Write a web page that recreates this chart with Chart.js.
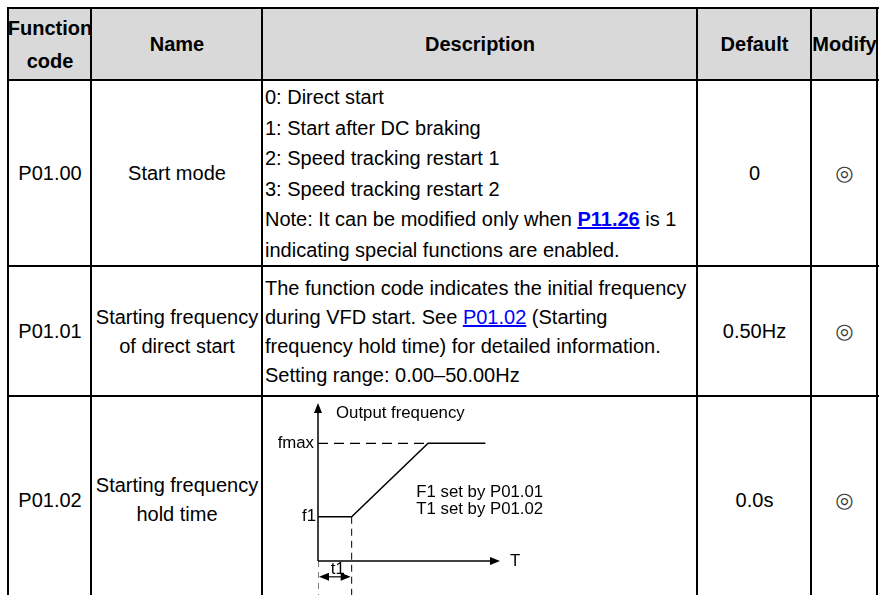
<!DOCTYPE html>
<html>
<head>
<meta charset="utf-8">
<script src="https://cdn.jsdelivr.net/npm/chart.js@4.4.1/dist/chart.umd.min.js"></script>
<style>
  html, body { margin: 0; padding: 0; background: #fff; overflow: hidden; width: 879px; height: 595px; }
  body { position: relative; font-family: "Liberation Sans", Arial, sans-serif; font-size: 20px; color: #000; }
  .hl { position: absolute; height: 2px; background: #000; }
  .vl { position: absolute; width: 2px; background: #000; }
  .cell { position: absolute; display: flex; align-items: center; box-sizing: border-box; white-space: nowrap; line-height: 29px; }
  .c { justify-content: center; text-align: center; }
  .l { justify-content: flex-start; text-align: left; padding-left: 2px; }
  .hd { background: #d9d9d9; font-weight: bold; }
  a { color: #0000ff; text-decoration: underline; }
  .sym { font-family: "DejaVu Sans", sans-serif; font-size: 21px; color: #3a3a3a; }
  #diag { position: absolute; left: 263px; top: 397px; }
</style>
</head>
<body>
<!-- header -->
<div class="cell c hd" style="left:9px;top:9px;width:82px;height:71px;line-height:33px;">Function<br>code</div>
<div class="cell c hd" style="left:92px;top:9px;width:170px;height:71px;">Name</div>
<div class="cell c hd" style="left:263px;top:9px;width:434px;height:71px;">Description</div>
<div class="cell c hd" style="left:698px;top:9px;width:113px;height:71px;">Default</div>
<div class="cell c hd" style="left:812px;top:9px;width:65px;height:71px;">Modify</div>

<!-- row 1 -->
<div class="cell c" style="left:9px;top:81px;width:82px;height:185px;">P01.00</div>
<div class="cell c" style="left:92px;top:81px;width:170px;height:185px;">Start mode</div>
<div class="cell l" style="left:263px;top:81px;width:434px;height:185px;line-height:30.5px;"><div>0: Direct start<br>1: Start after DC braking<br>2: Speed tracking restart 1<br>3: Speed tracking restart 2<br>Note: It can be modified only when <a><b>P11.26</b></a> is 1<br>indicating special functions are enabled.</div></div>
<div class="cell c" style="left:698px;top:81px;width:113px;height:185px;">0</div>
<div class="cell c sym" style="left:812px;top:81px;width:65px;height:185px;">◎</div>

<!-- row 2 -->
<div class="cell c" style="left:9px;top:267px;width:82px;height:129px;">P01.01</div>
<div class="cell c" style="left:92px;top:267px;width:170px;height:129px;">Starting frequency<br>of direct start</div>
<div class="cell l" style="left:263px;top:267px;width:434px;height:129px;"><div>The function code indicates the initial frequency<br>during VFD start. See <a>P01.02</a> (Starting<br>frequency hold time) for detailed information.<br>Setting range: 0.00–50.00Hz</div></div>
<div class="cell c" style="left:698px;top:267px;width:113px;height:129px;">0.50Hz</div>
<div class="cell c sym" style="left:812px;top:267px;width:65px;height:129px;">◎</div>

<!-- row 3 -->
<div class="cell c" style="left:9px;top:397px;width:82px;height:206px;">P01.02</div>
<div class="cell c" style="left:92px;top:397px;width:170px;height:206px;">Starting frequency<br>hold time</div>
<div class="cell c" style="left:698px;top:397px;width:113px;height:206px;">0.0s</div>
<div class="cell c sym" style="left:812px;top:397px;width:65px;height:206px;">◎</div>

<div id="diag"><canvas id="chart" width="434" height="198"></canvas></div>

<!-- grid lines -->
<div class="hl" style="left:7px;top:7px;width:872px;"></div>
<div class="hl" style="left:7px;top:79px;width:872px;"></div>
<div class="hl" style="left:7px;top:265px;width:872px;"></div>
<div class="hl" style="left:7px;top:395px;width:872px;"></div>
<div class="vl" style="left:7px;top:7px;height:600px;"></div>
<div class="vl" style="left:90px;top:7px;height:600px;"></div>
<div class="vl" style="left:261px;top:7px;height:600px;"></div>
<div class="vl" style="left:696px;top:7px;height:600px;"></div>
<div class="vl" style="left:810px;top:7px;height:600px;"></div>
<div class="vl" style="left:876px;top:7px;height:600px;"></div>

<script>
// ---- diagram data ----
const timeValues = [0, 1.85, 6.05, 9.2];          // T
const freqValues = [2.8, 2.8, 7.45, 7.45];        // output frequency
const levelLabels = ['f1', 'fmax'];
const levelValues = [2.8, 7.45];
const t1Value = 1.85;
const rampEnd = 6.05;
const axisMaxT = 10;
const axisMaxF = 10;
const axisMinF = -2.15;
const axisTitleY = 'Output frequency';
const axisTitleX = 'T';
const intervalLabel = 't1';
const noteLines = ['F1 set by P01.01', 'T1 set by P01.02'];

const pts = (xs, ys) => xs.map((x, i) => ({ x: x, y: ys[i] }));
const fmax = levelValues[1], f1 = levelValues[0];

const FONT = '16.8px "Liberation Sans", Arial, sans-serif';

function arrowHead(ctx, x, y, dir) {
  ctx.beginPath();
  if (dir === 'up') { ctx.moveTo(x, y); ctx.lineTo(x - 4, y + 10); ctx.lineTo(x + 4, y + 10); }
  else if (dir === 'right') { ctx.moveTo(x, y); ctx.lineTo(x - 10, y - 4); ctx.lineTo(x - 10, y + 4); }
  else if (dir === 'left') { ctx.moveTo(x, y); ctx.lineTo(x + 10, y - 4); ctx.lineTo(x + 10, y + 4); }
  ctx.closePath();
  ctx.fill();
}

const diagramPlugin = {
  id: 'diagram',
  afterDatasetsDraw(chart) {
    const ctx = chart.ctx, xs = chart.scales.x, ys = chart.scales.y;
    const X = v => xs.getPixelForValue(v), Y = v => ys.getPixelForValue(v);
    ctx.save();
    ctx.strokeStyle = '#000'; ctx.fillStyle = '#000'; ctx.lineWidth = 1.5;
    // y axis
    ctx.beginPath(); ctx.moveTo(X(0), Y(0)); ctx.lineTo(X(0), Y(axisMaxF) + 6); ctx.stroke();
    arrowHead(ctx, X(0), Y(axisMaxF), 'up');
    // x axis
    ctx.beginPath(); ctx.moveTo(X(0), Y(0)); ctx.lineTo(X(axisMaxT) - 6, Y(0)); ctx.stroke();
    arrowHead(ctx, X(axisMaxT), Y(0), 'right');
    // t1 interval double arrow
    const ya = Y(-1.0);
    ctx.lineWidth = 1.2;
    ctx.beginPath(); ctx.moveTo(X(0) + 4, ya); ctx.lineTo(X(t1Value) - 4, ya); ctx.stroke();
    arrowHead(ctx, X(0) + 1, ya, 'left');
    arrowHead(ctx, X(t1Value) - 1, ya, 'right');
    // text
    ctx.font = FONT; ctx.textBaseline = 'middle';
    ctx.textAlign = 'left';
    ctx.fillText(axisTitleY, X(0) + 18, Y(9.35));
    ctx.fillText(axisTitleX, X(axisMaxT) + 10, Y(0));
    noteLines.forEach((t, i) => ctx.fillText(t, X(5.4), Y(4.35) + i * 17));
    ctx.textAlign = 'right';
    levelLabels.forEach((t, i) => ctx.fillText(t, X(0) - (i === 0 ? 2 : 4), Y(levelValues[i])));
    ctx.textAlign = 'center';
    ctx.fillText(intervalLabel, X(t1Value / 2) + 3, Y(-0.55));
    ctx.restore();
  }
};

new Chart(document.getElementById('chart'), {
  type: 'scatter',
  data: {
    datasets: [
      { data: pts(timeValues, freqValues), showLine: true, borderColor: '#000', borderWidth: 1.5, pointRadius: 0, tension: 0 },
      { data: pts([0, rampEnd], [fmax, fmax]), showLine: true, borderColor: '#000', borderWidth: 1.3, borderDash: [10, 6], pointRadius: 0 },
      { data: pts([t1Value, t1Value], [f1, axisMinF]), showLine: true, borderColor: '#000', borderWidth: 1, borderDash: [7, 5], pointRadius: 0 },
      { data: pts([0, 0], [0, axisMinF]), showLine: true, borderColor: '#000', borderWidth: 1, borderDash: [6, 5], pointRadius: 0 }
    ]
  },
  options: {
    responsive: false,
    animation: false,
    devicePixelRatio: 1,
    layout: { padding: { left: 55, right: 197, top: 6, bottom: 0 } },
    scales: {
      x: { type: 'linear', min: 0, max: axisMaxT, display: false },
      y: { type: 'linear', min: axisMinF, max: axisMaxF, display: false }
    },
    plugins: { legend: { display: false }, tooltip: { enabled: false } },
    events: []
  },
  plugins: [diagramPlugin]
});
</script>
</body>
</html>
